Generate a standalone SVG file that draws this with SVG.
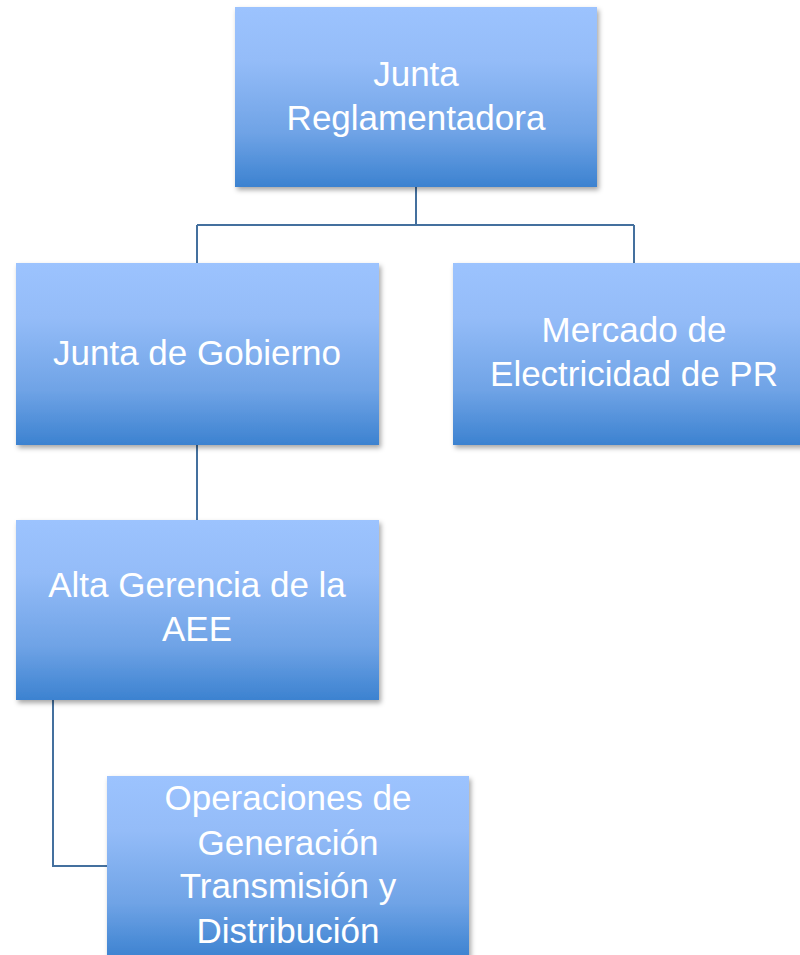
<svg xmlns="http://www.w3.org/2000/svg" width="800" height="955" viewBox="0 0 800 955">
<defs>
<linearGradient id="g" x1="0" y1="0" x2="0" y2="1">
<stop offset="0" stop-color="#9CC3FE"/>
<stop offset="0.3" stop-color="#94BCF8"/>
<stop offset="0.7" stop-color="#6FA3E6"/>
<stop offset="1" stop-color="#3C82D0"/>
</linearGradient>
<filter id="sh" x="-5%" y="-5%" width="112%" height="120%">
<feDropShadow dx="2" dy="3" stdDeviation="2.5" flood-color="#000" flood-opacity="0.35"/>
</filter>
<style>
.box{fill:url(#g);filter:url(#sh)}
.t{font-family:"Liberation Sans",Arial,sans-serif;font-size:35px;fill:#fff;text-anchor:middle}
.c{fill:none;stroke:#44709E;stroke-width:2}
</style>
</defs>
<rect width="800" height="955" fill="#fff"/>
<g id="connectors">
<path class="c" d="M416 187V225M197 225H634M197 225V263M634 225V263"/>
<path class="c" d="M197 445V520"/>
<path class="c" d="M53 700V866H107"/>
</g>
<g id="junta-reglamentadora">
<rect class="box" x="235" y="7" width="362" height="180"/>
<text class="t" x="416" y="86">Junta</text>
<text class="t" x="416" y="130">Reglamentadora</text>
</g>
<g id="junta-gobierno">
<rect class="box" x="16" y="263" width="363" height="182"/>
<text class="t" x="197" y="365">Junta de Gobierno</text>
</g>
<g id="mercado">
<rect class="box" x="453" y="263" width="350" height="182"/>
<text class="t" x="634" y="342">Mercado de</text>
<text class="t" x="634" y="386">Electricidad de PR</text>
</g>
<g id="alta-gerencia">
<rect class="box" x="16" y="520" width="363" height="180"/>
<text class="t" x="197" y="597">Alta Gerencia de la</text>
<text class="t" x="197" y="641">AEE</text>
</g>
<g id="operaciones">
<rect class="box" x="107" y="776" width="362" height="182"/>
<text class="t" x="288" y="810">Operaciones de</text>
<text class="t" x="288" y="855">Generación</text>
<text class="t" x="288" y="898">Transmisión y</text>
<text class="t" x="288" y="943">Distribución</text>
</g>
</svg>
